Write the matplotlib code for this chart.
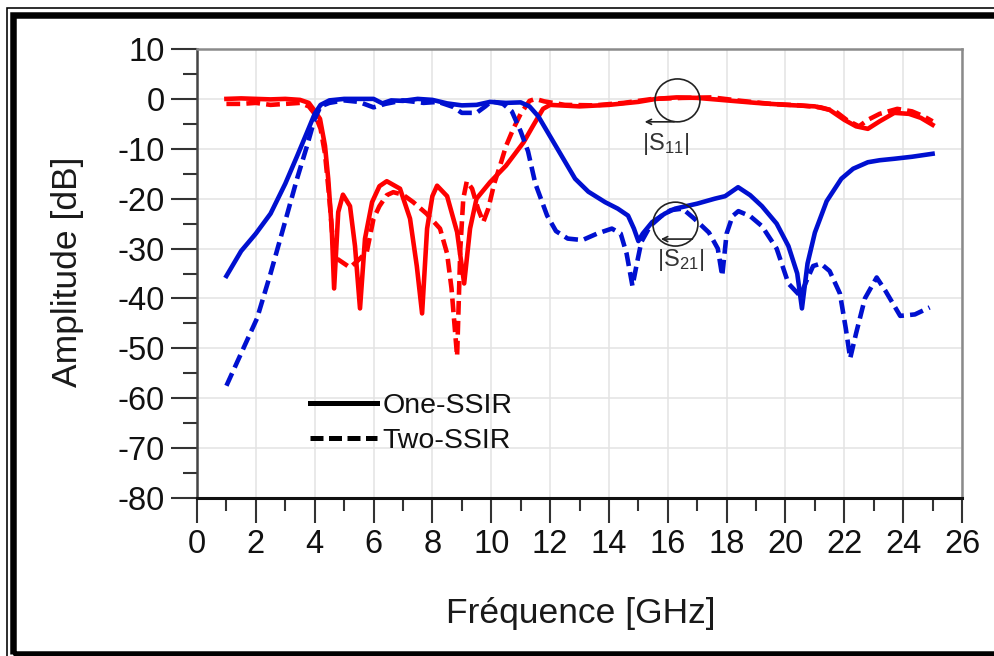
import matplotlib
matplotlib.use("Agg")
import matplotlib.pyplot as plt
from matplotlib.lines import Line2D
from matplotlib.patches import Ellipse, Rectangle
from matplotlib.ticker import MultipleLocator

plt.rcParams['font.family'] = ['Liberation Sans', 'DejaVu Sans']
plt.rcParams['mathtext.fontset'] = 'custom'
plt.rcParams['mathtext.rm'] = 'Liberation Sans'
plt.rcParams['mathtext.it'] = 'Liberation Sans:italic'
plt.rcParams['axes.unicode_minus'] = False

# ---- measured responses (frequency in GHz, amplitude in dB) ----
f_s11_one = [1.0, 1.5, 2.0, 2.5, 3.0, 3.5, 3.8, 3.95, 4.18, 4.35, 4.46, 4.58, 4.66,
             4.8, 4.96, 5.2, 5.37, 5.54, 5.71, 5.95, 6.2, 6.45, 6.9, 7.24, 7.47, 7.65,
             7.82, 8.0, 8.16, 8.5, 8.84, 9.08, 9.28, 9.5, 9.96, 10.5, 11.1, 11.42,
             11.76, 12.0, 13.0, 14.0, 15.0, 15.6, 16.3, 17.0, 18.0, 19.0, 20.0, 21.0,
             21.5, 22.0, 22.4, 22.8, 23.2, 23.7, 24.2, 24.6, 25.0]
s11_one = [0.0, 0.1, 0.0, -0.1, 0.0, -0.2, -0.8, -2.0, -4.0, -9.4, -16.0, -26.0, -38.0,
           -22.7, -19.2, -21.5, -29.5, -42.0, -28.0, -20.7, -17.5, -16.5, -18.0, -24.0,
           -33.5, -43.0, -26.0, -19.5, -17.4, -19.5, -26.7, -37.0, -26.0, -20.0, -16.7,
           -13.4, -8.7, -5.4, -2.0, -1.2, -1.5, -1.2, -0.6, 0.0, 0.3, 0.2, -0.3, -0.8,
           -1.2, -1.5, -2.2, -4.2, -5.5, -6.0, -4.5, -2.8, -3.0, -3.8, -5.2]

f_s11_two = [1.0, 1.5, 2.0, 2.5, 3.0, 3.5, 3.8, 4.0, 4.2, 4.35, 4.5, 4.62, 4.75, 5.0,
             5.2, 5.45, 5.77, 6.0, 6.2, 6.45, 6.67, 7.0, 7.35, 7.8, 8.26, 8.5, 8.65,
             8.84, 8.95, 9.05, 9.17, 9.35, 9.55, 9.73, 9.9, 10.1, 10.3, 10.5, 10.75,
             11.0, 11.3, 11.5, 11.8, 12.5, 13.5, 14.5, 15.5, 16.5, 17.5, 18.5, 19.5,
             20.5, 21.2, 21.7, 22.1, 22.5, 22.8, 23.2, 23.8, 24.3, 24.7, 25.0]
s11_two = [-1.0, -1.0, -0.8, -1.2, -1.0, -0.8, -1.5, -3.0, -6.0, -11.0, -20.0, -29.0,
           -32.0, -33.0, -33.8, -32.5, -30.7, -24.0, -21.5, -19.3, -18.7, -19.2, -20.7,
           -23.0, -26.0, -31.0, -38.0, -51.6, -30.0, -20.0, -16.5, -18.0, -22.0, -24.7,
           -22.0, -17.0, -13.4, -9.5, -6.0, -3.0, -0.4, 0.0, -0.5, -1.2, -1.3, -0.8,
           0.0, 0.2, 0.3, -0.4, -1.0, -1.3, -1.7, -2.5, -4.3, -5.5, -4.2, -3.0, -2.0,
           -2.5, -3.5, -4.5]

f_s21_one = [1.0, 1.5, 2.0, 2.5, 3.0, 3.4, 3.74, 4.0, 4.2, 4.5, 5.0, 5.5, 6.0, 6.3,
             6.6, 7.0, 7.5, 8.0, 8.5, 9.0, 9.5, 9.96, 10.5, 11.0, 11.3, 11.6, 11.9,
             12.4, 12.85, 13.3, 13.87, 14.3, 14.65, 14.85, 15.0, 15.15, 15.47, 15.9,
             16.25, 17.0, 17.6, 17.95, 18.39, 18.8, 19.2, 19.7, 20.1, 20.4, 20.56,
             20.75, 21.0, 21.4, 21.9, 22.3, 22.8, 23.2, 23.7, 24.3, 25.0]
s21_one = [-35.5, -30.5, -27.0, -23.0, -17.0, -11.5, -6.7, -3.0, -1.2, -0.3, 0.0, 0.0,
           0.0, -0.9, -0.3, -0.4, 0.0, -0.2, -0.9, -1.3, -1.2, -0.6, -0.8, -0.7, -1.5,
           -3.5, -6.5, -11.5, -16.0, -18.6, -20.7, -22.0, -23.4, -26.0, -28.5, -27.0,
           -24.7, -23.0, -22.0, -21.0, -20.0, -19.5, -17.7, -19.3, -21.5, -25.0, -29.5,
           -35.0, -42.0, -33.0, -26.8, -20.5, -16.0, -14.0, -12.7, -12.3, -12.0, -11.6,
           -11.0]

f_s21_two = [1.0, 1.5, 2.04, 2.5, 3.0, 3.4, 3.74, 4.0, 4.2, 4.5, 5.0, 5.5, 6.0, 6.4,
             7.0, 7.7, 8.2, 8.7, 9.0, 9.5, 9.8, 10.0, 10.4, 10.7, 11.0, 11.25, 11.5,
             11.9, 12.2, 12.6, 13.1, 13.6, 14.1, 14.4, 14.6, 14.8, 14.95, 15.1, 15.4,
             15.8, 16.1, 16.5, 16.9, 17.4, 17.7, 17.85, 18.0, 18.2, 18.4, 18.8, 19.2,
             19.7, 20.1, 20.5, 20.75, 20.94, 21.2, 21.5, 21.85, 22.05, 22.2, 22.4, 22.7,
             23.1, 23.4, 23.9, 24.4, 24.9]
s21_two = [-57.5, -51.0, -44.0, -35.0, -24.5, -16.0, -9.4, -4.0, -1.5, -0.8, -0.3, -0.6,
           -1.7, -1.0, -0.3, -0.8, -0.6, -1.6, -2.8, -2.8, -1.5, -0.5, -1.0, -2.5, -6.5,
           -10.5, -17.0, -23.4, -26.5, -28.0, -28.3, -27.0, -26.0, -27.0, -31.0, -37.5,
           -33.0, -28.7, -25.5, -23.4, -22.3, -22.0, -24.0, -26.8, -30.0, -35.5, -27.0,
           -23.5, -22.5, -23.5, -25.5, -30.0, -37.0, -39.5, -36.0, -33.5, -33.0, -34.5,
           -39.0, -46.0, -52.0, -47.0, -40.0, -35.8, -38.5, -43.5, -43.2, -41.8]

legend_labels = ["One-SSIR", "Two-SSIR"]
x_ticks = list(range(0, 27, 2))
y_ticks = list(range(-80, 11, 10))

RED = "#ff0000"
BLUE = "#0010d0"
LW = 3.3
DASH = (0, (3.0, 1.35))

W, H = 995, 656
fig = plt.figure(figsize=(W / 100, H / 100), dpi=100)
ax = fig.add_axes([197 / W, 1 - 498 / H, (962 - 197) / W, (498 - 49) / H])

ax.plot(f_s11_one, s11_one, color=RED, lw=LW, solid_joinstyle="round", zorder=3)
ax.plot(f_s11_two, s11_two, color=RED, lw=LW, linestyle=DASH, zorder=3)
ax.plot(f_s21_one, s21_one, color=BLUE, lw=LW, solid_joinstyle="round", zorder=4)
ax.plot(f_s21_two, s21_two, color=BLUE, lw=LW, linestyle=DASH, zorder=4)

ax.set_xlim(0, 26)
ax.set_ylim(-80, 10)
ax.set_xticks(x_ticks)
ax.set_yticks(y_ticks)
ax.xaxis.set_minor_locator(MultipleLocator(1))
ax.yaxis.set_minor_locator(MultipleLocator(5))
ax.grid(True, which="major", color="#e3e3e3", lw=1.1, zorder=0)

tick_font = 23.5
ax.tick_params(axis="both", which="major", direction="out", width=1.5,
               color="#333333", labelsize=tick_font, labelcolor="#111111")
ax.tick_params(axis="y", which="major", length=19, pad=4)
ax.tick_params(axis="y", which="minor", length=10, width=1.5, color="#333333")
ax.tick_params(axis="x", which="major", length=18, pad=4)
ax.tick_params(axis="x", which="minor", length=9, width=1.5, color="#333333")

ax.spines["left"].set_color("#444444")
ax.spines["left"].set_linewidth(1.8)
ax.spines["bottom"].set_color("#111111")
ax.spines["bottom"].set_linewidth(2.2)
for side in ("top", "right"):
    ax.spines[side].set_color("#8a8a8a")
    ax.spines[side].set_linewidth(1.8)

ax.set_xlabel("Fréquence [GHz]", fontsize=25.5, color="#1a1a1a")
ax.xaxis.label.set_va("center")
ax.xaxis.set_label_coords(0.501, (498 - 613) / 449)
ax.set_ylabel("Amplitude [dB]", fontsize=25.5, color="#1a1a1a")
ax.yaxis.label.set_va("center")
ax.yaxis.set_label_coords((68 - 197) / 765, (498 - 272) / 449)

# legend with black sample lines
handles = [Line2D([], [], color="black", lw=3.6),
           Line2D([], [], color="black", lw=3.6, linestyle=(0, (2.6, 1.1)))]
leg = ax.legend(handles, legend_labels, loc="upper left",
                bbox_to_anchor=((310 - 197) / 765, (498 - 393) / 449),
                frameon=False, fontsize=20.5, handlelength=2.35, handletextpad=0.2,
                labelspacing=0.3, borderpad=0, borderaxespad=0)
for t in leg.get_texts():
    t.set_color("#111111")

# markers for the two response groups
ring_kw = dict(fill=False, edgecolor="#222222", lw=1.2, zorder=6)
ax.add_patch(Ellipse((16.33, -0.3), 1.53, 8.6, **ring_kw))
ax.add_patch(Ellipse((16.26, -25.1), 1.53, 8.8, **ring_kw))
arrow_kw = dict(arrowstyle="->", color="#222222", lw=1.2, mutation_scale=9)
ax.annotate("", xy=(15.12, -4.6), xytext=(16.31, -4.6), arrowprops=arrow_kw, zorder=6)
ax.annotate("", xy=(15.67, -28.1), xytext=(16.93, -28.1), arrowprops=arrow_kw, zorder=6)
ax.text(15.93, -9.0, r"$|\mathrm{S}_{11}|$", fontsize=17, color="#333333",
        ha="center", va="center", zorder=6)
ax.text(16.45, -32.2, r"$|\mathrm{S}_{21}|$", fontsize=17, color="#333333",
        ha="center", va="center", zorder=6)

# double frame around the figure
def px_rect(x0, y0, x1, y1, lw_px):
    return Rectangle((x0 / W, 1 - y1 / H), (x1 - x0) / W, (y1 - y0) / H,
                     transform=fig.transFigure, fill=False, edgecolor="black",
                     lw=lw_px * 0.72, clip_on=False)

fig.patches.append(px_rect(7, 8, 1010, 670, 1.6))
fig.patches.append(px_rect(13.5, 15, 1005, 654, 6.5))

fig.savefig("out.png", dpi=100)
